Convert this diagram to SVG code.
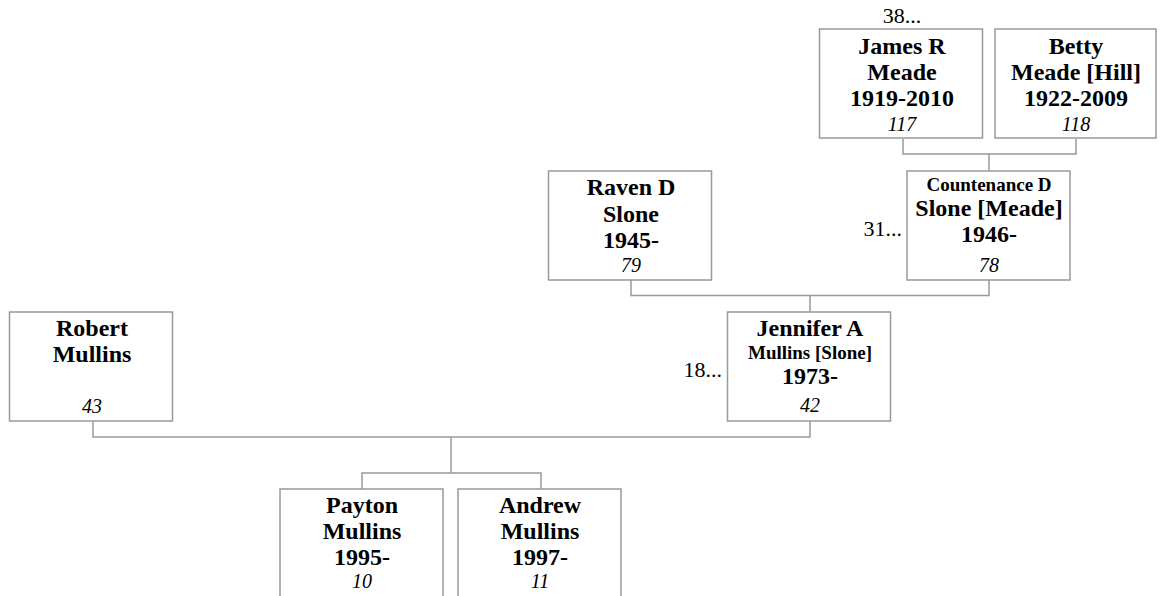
<svg xmlns="http://www.w3.org/2000/svg" width="1160" height="596" viewBox="0 0 1160 596">
<style>
.box{fill:#fff;stroke:#999;stroke-width:1.5}
.con{fill:none;stroke:#999;stroke-width:1.5}
text{font-family:"Liberation Serif","Times New Roman",serif;fill:#000}
.n{font-size:24px;font-weight:bold;text-anchor:middle}
.s{font-size:19px;font-weight:bold;text-anchor:middle}
.id{font-size:20px;font-style:italic;text-anchor:middle}
.lbl{font-size:22px}
</style>
<rect width="1160" height="596" fill="#fff"/>
<g id="connectors">
<path class="con" d="M903,139 V154 H1076 V139 M989,154 V171"/>
<path class="con" d="M631,280 V295.5 H989 V280 M810,295.5 V312"/>
<path class="con" d="M93,421 V437 H810 V421 M451,437 V473"/>
<path class="con" d="M362,489 V473 H541 V489"/>
</g>
<g id="james">
<rect class="box" x="819.5" y="29" width="163" height="109"/>
<text class="lbl" x="902" y="23" text-anchor="middle">38...</text>
<text class="n" x="902" y="54">James R</text>
<text class="n" x="902" y="80">Meade</text>
<text class="n" x="902" y="106">1919-2010</text>
<text class="id" x="902" y="131">117</text>
</g>
<g id="betty">
<rect class="box" x="995" y="29" width="161" height="109"/>
<text class="n" x="1076" y="54">Betty</text>
<text class="n" x="1076" y="80">Meade [Hill]</text>
<text class="n" x="1076" y="106">1922-2009</text>
<text class="id" x="1076" y="131">118</text>
</g>
<g id="countenance">
<rect class="box" x="907" y="171" width="163" height="109"/>
<text class="lbl" x="902" y="236" text-anchor="end">31...</text>
<text class="s" x="989" y="191">Countenance D</text>
<text class="n" x="989" y="216">Slone [Meade]</text>
<text class="n" x="989" y="242">1946-</text>
<text class="id" x="989" y="272">78</text>
</g>
<g id="raven">
<rect class="box" x="548.5" y="171" width="163" height="109"/>
<text class="n" x="631" y="195">Raven D</text>
<text class="n" x="631" y="222">Slone</text>
<text class="n" x="631" y="248">1945-</text>
<text class="id" x="631" y="272">79</text>
</g>
<g id="jennifer">
<rect class="box" x="727.5" y="312" width="163" height="109"/>
<text class="lbl" x="722" y="377" text-anchor="end">18...</text>
<text class="n" x="810" y="336">Jennifer A</text>
<text class="s" x="810" y="359">Mullins [Slone]</text>
<text class="n" x="810" y="384">1973-</text>
<text class="id" x="810" y="412">42</text>
</g>
<g id="robert">
<rect class="box" x="9.5" y="312" width="163" height="109"/>
<text class="n" x="92" y="336">Robert</text>
<text class="n" x="92" y="362">Mullins</text>
<text class="id" x="92" y="413">43</text>
</g>
<g id="payton">
<rect class="box" x="280" y="489" width="163" height="109"/>
<text class="n" x="362" y="513">Payton</text>
<text class="n" x="362" y="539">Mullins</text>
<text class="n" x="362" y="565">1995-</text>
<text class="id" x="362" y="588">10</text>
</g>
<g id="andrew">
<rect class="box" x="458" y="489" width="163" height="109"/>
<text class="n" x="540" y="513">Andrew</text>
<text class="n" x="540" y="539">Mullins</text>
<text class="n" x="540" y="565">1997-</text>
<text class="id" x="540" y="588">11</text>
</g>
</svg>
